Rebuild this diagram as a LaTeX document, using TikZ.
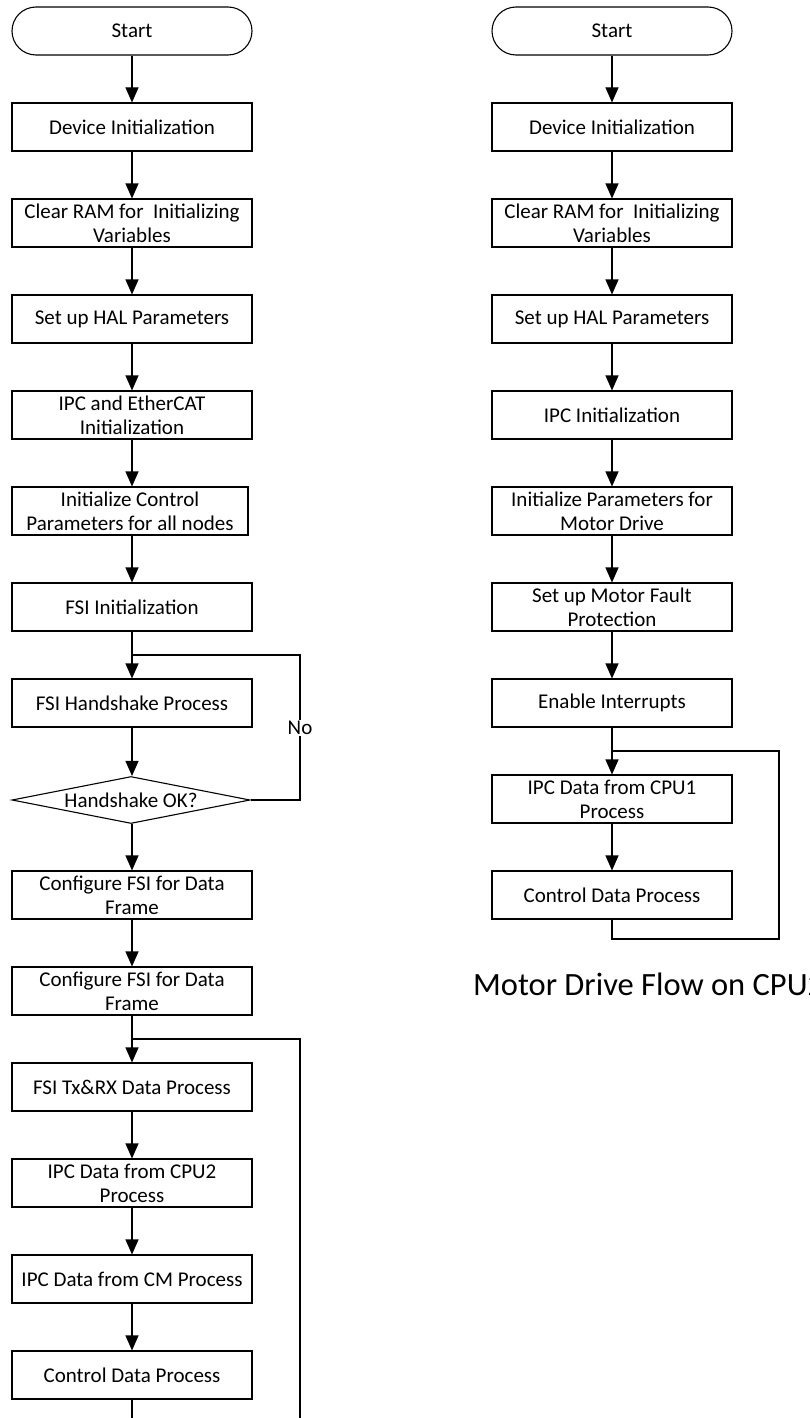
\documentclass[tikz,border=0pt]{standalone}
\usepackage{fontspec}
\setmainfont{Carlito}
\usetikzlibrary{arrows.meta,shapes.geometric}
\begin{document}
\begin{tikzpicture}[x=1pt,y=-1pt,
  txt/.style={font=\fontsize{21}{24}\selectfont},
  box/.style={txt,draw,line width=1.1pt,minimum width=240pt,minimum height=48pt,inner sep=0pt,align=center},
  term/.style={box,rounded corners=24pt},
  dec/.style={txt,draw,line width=1.1pt,diamond,aspect=5,minimum width=238pt,minimum height=47pt,inner sep=0pt},
  arr/.style={line width=1.1pt,-{Triangle[width=13pt,length=15pt]}},
  ln/.style={line width=1.1pt}]
\useasboundingbox (0,0) rectangle (810,1418);
\fill[white] (0,0) rectangle (810,1418);
% ---------- left column ----------
\node[term] (ls) at (132,31) {Start};
\node[box] (l1) at (132,127) {Device Initialization};
\node[box] (l2) at (132,223) {Clear RAM for\ \ Initializing\\Variables};
\node[box] (l3) at (132,319) {Set up HAL Parameters};
\node[box] (l4) at (132,415) {IPC and EtherCAT\\Initialization};
\node[box,minimum width=236pt] (l5) at (130,511) {Initialize Control\\Parameters for all nodes};
\node[box] (l6) at (132,607) {FSI Initialization};
\node[box] (l7) at (132,703) {FSI Handshake Process};
\node[dec] (ld) at (131,800) {Handshake OK?};
\node[box] (l8) at (132,895) {Configure FSI for Data\\Frame};
\node[box] (l9) at (132,991) {Configure FSI for Data\\Frame};
\node[box] (l10) at (132,1087) {FSI Tx\&RX Data Process};
\node[box] (l11) at (132,1183) {IPC Data from CPU2\\Process};
\node[box] (l12) at (132,1279) {IPC Data from CM Process};
\node[box] (l13) at (132,1375) {Control Data Process};
\draw[arr] (ls) -- (l1);
\draw[arr] (l1) -- (l2);
\draw[arr] (l2) -- (l3);
\draw[arr] (l3) -- (l4);
\draw[arr] (l4) -- (l4 |- l5.north);
\draw[arr] (l5.south -| l6) -- (l6);
\draw[arr] (l6.south) -- (l7);
\draw[arr] (l7) -- (l7 |- ld.north);
\draw[arr] (ld.south -| l8) -- (l8);
\draw[arr] (l8) -- (l9);
\draw[arr] (l9) -- (l10);
\draw[arr] (l10) -- (l11);
\draw[arr] (l11) -- (l12);
\draw[arr] (l12) -- (l13);
% No loop
\coordinate (nr) at (300,655);
\coordinate (nj) at (132,655);
\draw[ln] (ld.east) -| (nr) -- (nj);
\node[txt,fill=white,inner sep=1pt] (no) at (300,728) {No};
% main loop
\coordinate (lb) at (132,1422);
\coordinate (rb) at (300,1422);
\coordinate (rt) at (300,1039);
\coordinate (lt) at (132,1039);
\draw[ln] (l13) -- (lb);
\draw[ln] (rb) -- (rt) -- (lt);
% ---------- right column ----------
\node[term] (rs) at (612,31) {Start};
\node[box] (r1) at (612,127) {Device Initialization};
\node[box] (r2) at (612,223) {Clear RAM for\ \ Initializing\\Variables};
\node[box] (r3) at (612,319) {Set up HAL Parameters};
\node[box] (r4) at (612,415) {IPC Initialization};
\node[box] (r5) at (612,511) {Initialize Parameters for\\Motor Drive};
\node[box] (r6) at (612,607) {Set up Motor Fault\\Protection};
\node[box] (r7) at (612,703) {Enable Interrupts};
\node[box] (r8) at (612,799) {IPC Data from CPU1\\Process};
\node[box] (r9) at (612,895) {Control Data Process};
\draw[arr] (rs) -- (r1);
\draw[arr] (r1) -- (r2);
\draw[arr] (r2) -- (r3);
\draw[arr] (r3) -- (r4);
\draw[arr] (r4) -- (r5);
\draw[arr] (r5) -- (r6);
\draw[arr] (r6) -- (r7);
\draw[arr] (r7) -- (r8);
\draw[arr] (r8) -- (r9);
\coordinate (rl) at (779,939);
\coordinate (rj) at (612,751);
\draw[ln] (r9.south) |- (rl) |- (rj);
\node[anchor=base west,font=\fontsize{32.5}{38}\selectfont,inner sep=0pt] (title) at (473,995) {Motor Drive Flow on CPU2};
\end{tikzpicture}
\end{document}
